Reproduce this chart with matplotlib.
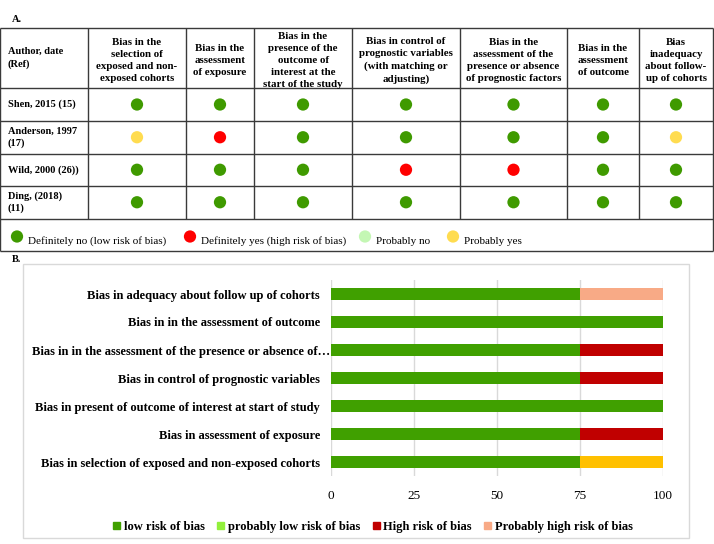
import matplotlib
matplotlib.use("Agg")
import matplotlib.pyplot as plt
from matplotlib.patches import Rectangle
from matplotlib.transforms import ScaledTranslation

# ---------------- Panel A data ----------------
col_headers = [
    "Author, date\n(Ref)",
    "Bias in the\nselection of\nexposed and non-\nexposed cohorts",
    "Bias in the\nassessment\nof exposure",
    "Bias in the\npresence of the\noutcome of\ninterest at the\nstart of the study",
    "Bias in control of\nprognostic variables\n(with matching or\nadjusting)",
    "Bias in the\nassessment of the\npresence or absence\nof prognostic factors",
    "Bias in the\nassessment\nof outcome",
    "Bias\ninadequacy\nabout follow-\nup of cohorts",
]
studies = ["Shen, 2015 (15)", "Anderson, 1997\n(17)", "Wild, 2000 (26))", "Ding, (2018)\n(11)"]
ratings = [
    ["DN", "DN", "DN", "DN", "DN", "DN", "DN"],
    ["PY", "DY", "DN", "DN", "DN", "DN", "PY"],
    ["DN", "DN", "DN", "DY", "DY", "DN", "DN"],
    ["DN", "DN", "DN", "DN", "DN", "DN", "DN"],
]
rating_codes = ["DN", "DY", "PN", "PY"]
rating_labels = ["Definitely no (low risk of bias)", "Definitely yes (high risk of bias)",
                 "Probably no", "Probably yes"]
rating_colors = {"DN": "#3f9a00", "DY": "#ff0000", "PN": "#c4f7b4", "PY": "#ffdc50"}

# ---------------- Panel B data ----------------
domains = [
    "Bias in selection of exposed and non-exposed cohorts",
    "Bias in assessment of exposure",
    "Bias in present of outcome of interest at start of study",
    "Bias in control of prognostic variables",
    "Bias in in the assessment of the presence or absence of\u2026",
    "Bias in in the assessment of outcome",
    "Bias in adequacy about follow up of cohorts",
]
low_risk = [75, 75, 100, 75, 75, 100, 75]
prob_low_risk = [0, 0, 0, 0, 0, 0, 0]
high_risk = [0, 25, 0, 25, 25, 0, 0]
prob_high_risk = [0, 0, 0, 0, 0, 0, 25]
prob_yes = [25, 0, 0, 0, 0, 0, 0]
series_names = ["low risk of bias", "probably low risk of bias", "High risk of bias",
                "Probably high risk of bias"]
series_colors = ["#40a000", "#92f03c", "#c00000", "#f8aa86", "#ffc000"]
xticks = [0, 25, 50, 75, 100]

SERIF = ["Liberation Serif", "DejaVu Serif"]
plt.rcParams["font.family"] = SERIF

W, H = 714, 544
fig = plt.figure(figsize=(W / 100, H / 100), dpi=100)

# full-figure axes in pixel coords
base = fig.add_axes([0, 0, 1, 1])
base.set_xlim(0, W)
base.set_ylim(H, 0)
base.axis("off")

# ---- Table ----
col_edges = [0, 88, 186, 254, 352, 460, 567, 639, 713]
row_edges = [28, 88, 121, 153.5, 186, 218.5, 251]
lc = "#3a3a3a"
for y in row_edges:
    base.plot([col_edges[0], col_edges[-1]], [y, y], color=lc, lw=1.0, solid_capstyle="butt")
for x in col_edges:
    y1 = row_edges[-2] if x not in (col_edges[0], col_edges[-1]) else row_edges[-1]
    base.plot([x, x], [row_edges[0], y1], color=lc, lw=1.0, solid_capstyle="butt")

base.text(12, 20, "A.", fontsize=7.5, fontweight="bold", ha="left", va="center")

LS = 1.42
hy = (row_edges[0] + row_edges[1]) / 2
for i, h in enumerate(col_headers):
    if i == 0:
        base.text(8, hy, h, fontsize=7.5, fontweight="bold", ha="left", va="center",
                  linespacing=LS)
    else:
        cx = (col_edges[i] + col_edges[i + 1]) / 2
        base.text(cx, hy + 2.5, h, fontsize=7.8, fontweight="bold", ha="center", va="center",
                  linespacing=LS)

for r, (st, row) in enumerate(zip(studies, ratings)):
    cy = (row_edges[r + 1] + row_edges[r + 2]) / 2
    base.text(8, cy, st, fontsize=7.5, fontweight="bold", ha="left", va="center",
              linespacing=LS)
    xs = [(col_edges[c + 1] + col_edges[c + 2]) / 2 for c in range(len(row))]
    base.scatter(xs, [cy] * len(row), s=78, c=[rating_colors[v] for v in row],
                 edgecolors="none", zorder=3)

leg_x = [17, 190, 365, 453]
for code, lab, lx in zip(rating_codes, rating_labels, leg_x):
    base.scatter([lx], [236.5], s=78, c=rating_colors[code], edgecolors="none", zorder=3)
    base.text(lx + 11, 241, lab, fontsize=8, ha="left", va="center")

# ---- Panel B frame ----
base.text(12, 259, "B.", fontsize=7.5, fontweight="bold", ha="left", va="center")
base.add_patch(Rectangle((23, 264), 666, 274, fill=False, edgecolor="#d9d9d9", lw=1.0))

# ---- Bar chart ----
ax = fig.add_axes([331 / W, (H - 476) / H, 332 / W, 196 / H])
ax.patch.set_alpha(0)
ypos = list(range(len(domains)))
left = [0] * len(domains)
all_series = [low_risk, prob_low_risk, high_risk, prob_high_risk, prob_yes]
for k, vals in enumerate(all_series):
    ax.barh(ypos, vals, left=left, height=0.4, color=series_colors[k], zorder=3,
            edgecolor="none")
    left = [a + b for a, b in zip(left, vals)]

ax.set_xlim(0, 100)
ax.set_ylim(-0.5, len(domains) - 0.5)
ax.set_xticks(xticks)
ax.set_xticklabels([str(t) for t in xticks], fontsize=9.5)
ax.set_yticks(ypos)
ax.set_yticklabels(domains, fontsize=9, fontweight="bold")
ax.tick_params(axis="both", length=0)
ax.tick_params(axis="x", pad=10)
ax.tick_params(axis="y", pad=8)
ax.grid(axis="x", color="#d9d9d9", lw=1.0, zorder=0)
for s in ax.spines.values():
    s.set_visible(False)
# the truncated label sits right against the axis in the original
for lab in ax.get_yticklabels():
    if lab.get_text().endswith("\u2026"):
        lab.set_transform(lab.get_transform() + ScaledTranslation(10 / 100, 0, fig.dpi_scale_trans))

handles = [Rectangle((0, 0), 1, 1, color=series_colors[k]) for k in range(4)]
fig.legend(handles, series_names, loc="center", bbox_to_anchor=(373 / W, 1 - 527 / H),
           ncol=4, frameon=False, handlelength=0.55, handleheight=0.55, handletextpad=0.3,
           columnspacing=1.0, prop={"family": SERIF, "weight": "bold", "size": 9})

fig.savefig("out.png", dpi=100)
